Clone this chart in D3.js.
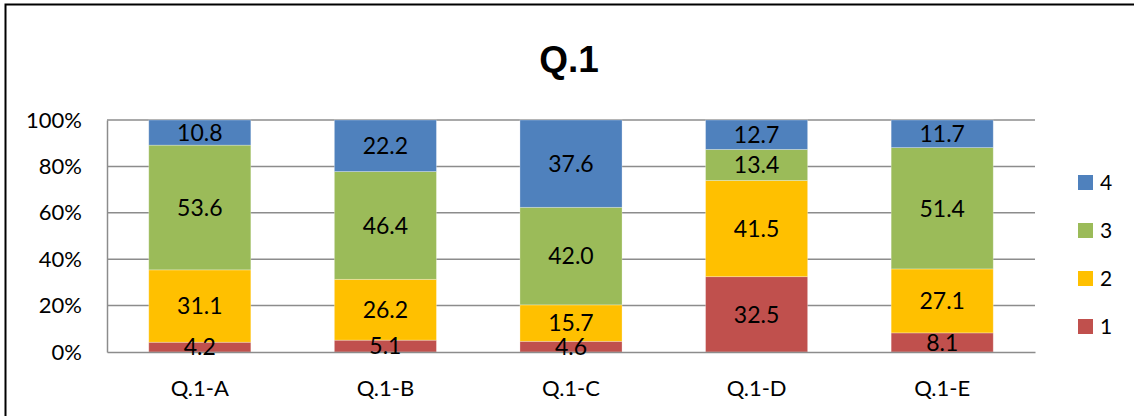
<!DOCTYPE html>
<html>
<head>
<meta charset="utf-8">
<script src="https://cdn.jsdelivr.net/npm/d3@7"></script>
<style>
  html, body { margin: 0; padding: 0; background: #fff; }
  svg { display: block; }
</style>
</head>
<body>
<svg id="chart" width="1134" height="416"></svg>
<script>
// Survey responses for Q.1, one stacked column per sub-question
const categories = ["Q.1-A", "Q.1-B", "Q.1-C", "Q.1-D", "Q.1-E"];
const seriesNames = ["1", "2", "3", "4"];
const values1 = [4.2, 5.1, 4.6, 32.5, 8.1];
const values2 = [31.1, 26.2, 15.7, 41.5, 27.1];
const values3 = [53.6, 46.4, 42.0, 13.4, 51.4];
const values4 = [10.8, 22.2, 37.6, 12.7, 11.7];
const yTicks = [0, 0.2, 0.4, 0.6, 0.8, 1.0];
const colors = ["#C0504D", "#FFC000", "#9BBB59", "#4F81BD"];

const seriesValues = [values1, values2, values3, values4];
const rows = categories.map((c, i) => {
  const r = { category: c };
  seriesNames.forEach((s, k) => { r[s] = seriesValues[k][i]; });
  return r;
});

const svg = d3.select("#chart");
const W = 1134, H = 416;
const margin = { left: 107, right: 99, top: 120, bottom: 64 };
const plotW = W - margin.left - margin.right;
const plotH = H - margin.top - margin.bottom;

// chart frame (left and top edges)
svg.append("path")
  .attr("d", `M5.5,${H} L5.5,4.5 L${W},4.5`)
  .attr("fill", "none").attr("stroke", "#000").attr("stroke-width", 2);

svg.append("text")
  .attr("x", 569).attr("y", 72)
  .attr("text-anchor", "middle")
  .attr("font-family", "Liberation Sans, Arial, sans-serif")
  .attr("font-weight", "bold")
  .attr("font-size", 37)
  .text("Q.1");

const g = svg.append("g").attr("transform", `translate(${margin.left},${margin.top})`);

const x = d3.scaleBand().domain(categories).range([0, plotW]).paddingInner(0.45).paddingOuter(0.225);
const y = d3.scaleLinear().domain([0, 1]).range([plotH, 0]);

const font = "Lato, 'Open Sans', sans-serif";

// gridlines
g.append("g").selectAll("line").data(yTicks.filter(t => t > 0)).join("line")
  .attr("x1", 0).attr("x2", plotW)
  .attr("y1", d => y(d)).attr("y2", d => y(d))
  .attr("stroke", "#8c8c8c").attr("stroke-width", 1.5);

// y axis
const yAxis = g.append("g").call(d3.axisLeft(y).tickValues(yTicks).tickFormat(d3.format(".0%")).tickSize(0).tickPadding(25));
yAxis.select(".domain").attr("stroke", "#8c8c8c").attr("stroke-width", 1.5);
yAxis.selectAll("text").attr("font-family", font).attr("font-size", 22).attr("fill", "#000");

// stacked, normalised to 100%
const stack = d3.stack().keys(seriesNames).offset(d3.stackOffsetExpand);
const layers = stack(rows);

const layerG = g.selectAll(".layer").data(layers).join("g")
  .attr("class", "layer")
  .attr("fill", (d, i) => colors[i]);

layerG.selectAll("rect").data(d => d).join("rect")
  .attr("x", d => x(d.data.category))
  .attr("width", x.bandwidth())
  .attr("y", d => y(d[1]))
  .attr("height", d => y(d[0]) - y(d[1]))
  .attr("stroke", "rgba(255,255,255,0.35)")
  .attr("stroke-width", 0.8);

// x axis
const xAxis = g.append("g").attr("transform", `translate(0,${plotH})`)
  .call(d3.axisBottom(x).tickSize(0).tickPadding(28));
xAxis.select(".domain").attr("stroke", "#8c8c8c").attr("stroke-width", 1.5);
xAxis.selectAll("text").attr("font-family", font).attr("font-size", 22).attr("fill", "#000");

// data labels, centred in each segment
layers.forEach(layer => {
  g.append("g").selectAll("text").data(layer).join("text")
    .attr("x", d => x(d.data.category) + x.bandwidth() / 2)
    .attr("y", d => (y(d[0]) + y(d[1])) / 2)
    .attr("dy", "0.36em")
    .attr("text-anchor", "middle")
    .attr("font-family", font)
    .attr("font-size", 23)
    .attr("fill", "#000")
    .text(d => d3.format(".1f")(d.data[layer.key]));
});

// legend (top to bottom: 4, 3, 2, 1)
const legend = svg.append("g");
const legendItems = seriesNames.slice().reverse();
legendItems.forEach((s, i) => {
  const k = seriesNames.indexOf(s);
  const yy = 175 + i * 48;
  legend.append("rect").attr("x", 1078).attr("y", yy).attr("width", 15).attr("height", 15).attr("fill", colors[k]);
  legend.append("text").attr("x", 1100).attr("y", yy + 7.5).attr("dy", "0.36em")
    .attr("font-family", font).attr("font-size", 21).attr("fill", "#000").text(s);
});
</script>
</body>
</html>
